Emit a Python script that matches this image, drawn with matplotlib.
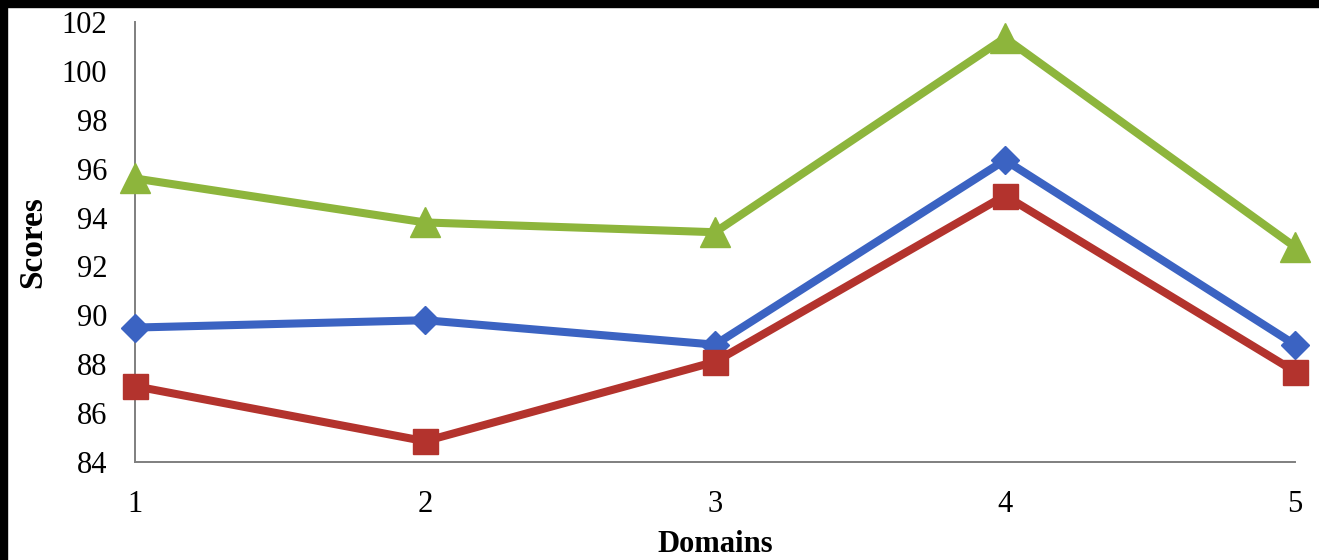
import matplotlib.pyplot as plt
from matplotlib.patches import Rectangle

# scores per domain for the three groups
domains = [1, 2, 3, 4, 5]
blue_scores = [89.5, 89.8, 88.8, 96.35, 88.8]
red_scores = [87.1, 84.85, 88.1, 94.9, 87.7]
green_scores = [95.6, 93.8, 93.4, 101.35, 92.8]
yticks = list(range(84, 103, 2))

plt.rcParams['font.family'] = ['Liberation Serif', 'DejaVu Serif']

fig = plt.figure(figsize=(13.19, 5.6), dpi=100)
ax = fig.add_axes([0.1024, 0.175, 0.8794, 0.7857])

lw = 5.8
ax.plot(domains, blue_scores, color='#3b63c2', lw=lw, marker='D', ms=14,
        zorder=3, clip_on=False)
ax.plot(domains, red_scores, color='#b3332d', lw=lw, marker='s', ms=18,
        zorder=3, clip_on=False)
ax.plot(domains, green_scores, color='#8db53c', lw=lw, marker='^', ms=21,
        zorder=3, clip_on=False)

ax.set_xlim(1, 5)
ax.set_ylim(84, 102)
ax.set_xticks(domains)
ax.set_yticks(yticks)
ax.tick_params(length=0, labelsize=22)
ax.tick_params(axis='x', pad=20)
ax.tick_params(axis='y', pad=20)
for s in ['top', 'right']:
    ax.spines[s].set_visible(False)
for s in ['left', 'bottom']:
    ax.spines[s].set_color('#7f7f7f')
    ax.spines[s].set_linewidth(1.4)

ax.set_ylabel('Scores', fontsize=24, fontweight='bold', labelpad=10)
fig.text(0.542, 0.002, 'Domains', ha='center', va='bottom',
         fontsize=22, fontweight='bold')

# dark frame along the top and left edges
fig.patches.append(Rectangle((0, 1 - 7 / 560), 1, 7 / 560, transform=fig.transFigure,
                             color='black', zorder=10))
fig.patches.append(Rectangle((0, 0), 7 / 1319, 1, transform=fig.transFigure,
                             color='black', zorder=10))

fig.savefig('out.png', dpi=100)
